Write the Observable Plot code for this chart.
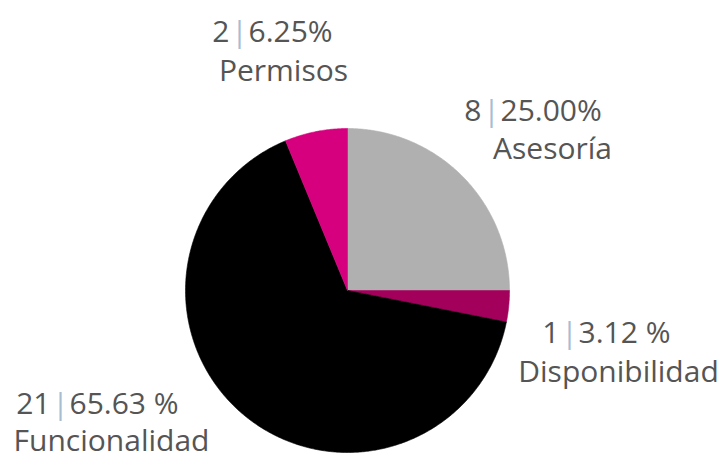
<!DOCTYPE html>
<html>
<head>
<meta charset="utf-8">
<script src="https://cdn.jsdelivr.net/npm/d3@7"></script>
<script src="https://cdn.jsdelivr.net/npm/@observablehq/plot@0.6"></script>
<style>
  html, body { margin: 0; padding: 0; background: #fff; }
  #chart svg { display: block; }
</style>
</head>
<body>
<div id="chart"></div>
<script>
// ---- data ----
const categories = ["Asesoría", "Disponibilidad", "Funcionalidad", "Permisos"];
const counts = [8, 1, 21, 2];
const percentLabels = ["25.00%", "3.12 %", "65.63 %", "6.25%"];
const colors = ["#b0b0b0", "#a3005c", "#000000", "#d6007f"];

// ---- layout (pixels) ----
const W = 721, H = 458;
const cx = 347, cy = 290, R = 162;
// label anchors: [x of "|" separator, baseline of value line, centre x of name, baseline of name]
const labelLayout = {
  "Asesoría": [491, 120, 552, 158],
  "Disponibilidad": [569, 342, 618, 381],
  "Funcionalidad": [60, 413, 111, 450],
  "Permisos": [239, 41, 283, 80]
};

// pixel -> data units (1 unit = R px, y up)
const toX = px => (px - cx) / R;
const toY = py => (cy - py) / R;

const total = d3.sum(counts);
const slices = [];
let acc = 0;
categories.forEach((cat, i) => {
  const a0 = acc / total * 2 * Math.PI;
  acc += counts[i];
  const a1 = acc / total * 2 * Math.PI;
  const n = Math.max(2, Math.ceil((a1 - a0) / (Math.PI / 360)));
  slices.push({cat, x: 0, y: 0});
  for (let k = 0; k <= n; k++) {
    const a = a0 + (a1 - a0) * k / n;
    slices.push({cat, x: Math.sin(a), y: Math.cos(a)});
  }
  slices.push({cat, x: 0, y: 0});
});

const labels = categories.map((cat, i) => {
  const L = labelLayout[cat];
  return {
    cat,
    count: String(counts[i]),
    pct: percentLabels[i],
    bx: toX(L[0]), y1: toY(L[1]),
    x2: toX(L[2]), y2: toY(L[3])
  };
});

const font = "'Open Sans', 'Noto Sans', sans-serif";
const fs = 30;
const textColor = "#555555";

const chart = Plot.plot({
  width: W,
  height: H,
  margin: 0,
  x: {domain: [toX(0), toX(W)], axis: null},
  y: {domain: [toY(H), toY(0)], axis: null},
  color: {domain: categories, range: colors},
  style: {fontFamily: font, background: "#fff"},
  marks: [
    Plot.line(slices, {x: "x", y: "y", z: "cat", fill: "cat", stroke: "cat", strokeWidth: 0.6, curve: "linear"}),
    Plot.text(labels, {x: "bx", y: "y1", text: "count", textAnchor: "end", dx: -10, lineAnchor: "bottom", fontSize: fs, fill: textColor, fontFamily: font}),
    Plot.text(labels, {x: "bx", y: "y1", text: () => "|", textAnchor: "middle", lineAnchor: "bottom", fontSize: fs, fill: "#a9bdd2", fontFamily: font}),
    Plot.text(labels, {x: "bx", y: "y1", text: "pct", textAnchor: "start", dx: 9, lineAnchor: "bottom", fontSize: fs, fill: textColor, fontFamily: font}),
    Plot.text(labels, {x: "x2", y: "y2", text: "cat", textAnchor: "middle", lineAnchor: "bottom", fontSize: fs, fill: textColor, fontFamily: font})
  ]
});
document.getElementById("chart").append(chart);
</script>
</body>
</html>
